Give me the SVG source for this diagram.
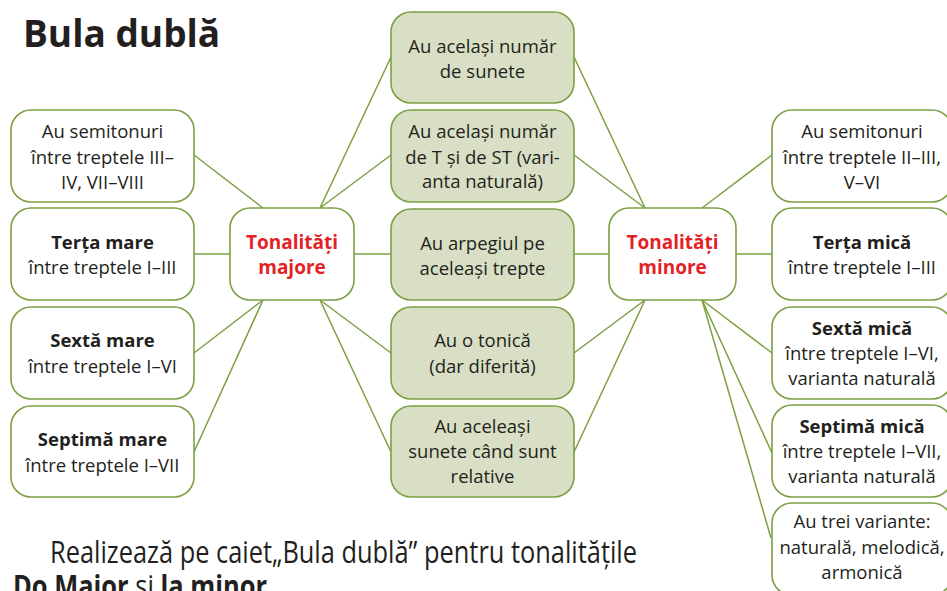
<svg xmlns="http://www.w3.org/2000/svg" width="947" height="591" viewBox="0 0 947 591">
<style>
  .bx { fill: #ffffff; stroke: #7ba043; stroke-width: 1.6; }
  .cb { fill: #d9dfc4; stroke: #7ba043; stroke-width: 1.6; }
  .ln { stroke: #7ba043; stroke-width: 1.5; fill: none; }
  text { font-family: "Open Sans", "Liberation Sans", sans-serif; fill: #231f20; }
  .t { font-size: 18.5px; text-anchor: middle; }
  .b { font-weight: bold; }
  .red { font-size: 19px; font-weight: bold; fill: #e41f26; text-anchor: middle; }
  .title { font-size: 37px; font-weight: bold; }
  .foot { font-family: "Liberation Sans Narrow", "Open Sans", "Liberation Sans", sans-serif; font-size: 31px; }
</style>
<rect width="947" height="591" fill="#ffffff"/>
<text class="title" x="23" y="47">Bula dublă</text>

<g id="connectors">
  <line class="ln" x1="194" y1="155" x2="263" y2="208"/>
  <line class="ln" x1="194" y1="254" x2="230" y2="254"/>
  <line class="ln" x1="194" y1="353" x2="263" y2="300"/>
  <line class="ln" x1="194" y1="452" x2="263" y2="300"/>
  <line class="ln" x1="320" y1="208" x2="391" y2="57"/>
  <line class="ln" x1="320" y1="208" x2="391" y2="155"/>
  <line class="ln" x1="354" y1="254" x2="391" y2="254"/>
  <line class="ln" x1="320" y1="300" x2="391" y2="353"/>
  <line class="ln" x1="320" y1="300" x2="391" y2="452"/>
  <line class="ln" x1="574" y1="57" x2="645" y2="208"/>
  <line class="ln" x1="574" y1="155" x2="645" y2="208"/>
  <line class="ln" x1="574" y1="254" x2="609" y2="254"/>
  <line class="ln" x1="574" y1="353" x2="645" y2="300"/>
  <line class="ln" x1="574" y1="452" x2="645" y2="300"/>
  <line class="ln" x1="702" y1="208" x2="772" y2="155"/>
  <line class="ln" x1="736" y1="254" x2="772" y2="254"/>
  <line class="ln" x1="702" y1="300" x2="772" y2="353"/>
  <line class="ln" x1="702" y1="300" x2="772" y2="453"/>
  <line class="ln" x1="702" y1="300" x2="771" y2="538"/>
</g>

<g id="L1"><rect class="bx" x="11" y="110" width="183" height="92" rx="20"/>
  <text class="t" x="102.5" y="138">Au semitonuri</text>
  <text class="t" x="102.5" y="164">între treptele III–</text>
  <text class="t" x="102.5" y="189">IV, VII–VIII</text></g>
<g id="L2"><rect class="bx" x="11" y="208" width="183" height="92" rx="20"/>
  <text class="t b" x="102.5" y="249">Terța mare</text>
  <text class="t" x="102.5" y="274">între treptele I–III</text></g>
<g id="L3"><rect class="bx" x="11" y="307" width="183" height="92" rx="20"/>
  <text class="t b" x="102.5" y="347">Sextă mare</text>
  <text class="t" x="102.5" y="373">între treptele I–VI</text></g>
<g id="L4"><rect class="bx" x="11" y="406" width="183" height="91" rx="20"/>
  <text class="t b" x="102.5" y="446">Septimă mare</text>
  <text class="t" x="102.5" y="472">între treptele I–VII</text></g>

<g id="majore"><rect class="bx" x="230" y="208" width="124" height="92" rx="20"/>
  <text class="red" x="292" y="249">Tonalități</text>
  <text class="red" x="292" y="274">majore</text></g>

<g id="C1"><rect class="cb" x="391" y="12" width="183" height="91" rx="20"/>
  <text class="t" x="482.5" y="53">Au același număr</text>
  <text class="t" x="482.5" y="78">de sunete</text></g>
<g id="C2"><rect class="cb" x="391" y="110" width="183" height="92" rx="20"/>
  <text class="t" x="482.5" y="138">Au același număr</text>
  <text class="t" x="482.5" y="164">de T și de ST (vari-</text>
  <text class="t" x="482.5" y="188">anta naturală)</text></g>
<g id="C3"><rect class="cb" x="391" y="209" width="183" height="91" rx="20"/>
  <text class="t" x="482.5" y="250">Au arpegiul pe</text>
  <text class="t" x="482.5" y="275">aceleași trepte</text></g>
<g id="C4"><rect class="cb" x="391" y="307" width="183" height="92" rx="20"/>
  <text class="t" x="482.5" y="347">Au o tonică</text>
  <text class="t" x="482.5" y="373">(dar diferită)</text></g>
<g id="C5"><rect class="cb" x="391" y="406" width="183" height="91" rx="20"/>
  <text class="t" x="482.5" y="433">Au aceleași</text>
  <text class="t" x="482.5" y="458">sunete când sunt</text>
  <text class="t" x="482.5" y="483">relative</text></g>

<g id="minore"><rect class="bx" x="609" y="208" width="127" height="92" rx="20"/>
  <text class="red" x="672.5" y="249">Tonalități</text>
  <text class="red" x="672.5" y="274">minore</text></g>

<g id="R1"><rect class="bx" x="772" y="110" width="180" height="92" rx="20"/>
  <text class="t" x="862" y="138">Au semitonuri</text>
  <text class="t" x="862" y="164">între treptele II–III,</text>
  <text class="t" x="862" y="189">V–VI</text></g>
<g id="R2"><rect class="bx" x="772" y="208" width="180" height="92" rx="20"/>
  <text class="t b" x="862" y="249">Terța mică</text>
  <text class="t" x="862" y="274">între treptele I–III</text></g>
<g id="R3"><rect class="bx" x="772" y="307" width="180" height="92" rx="20"/>
  <text class="t b" x="862" y="335">Sextă mică</text>
  <text class="t" x="862" y="360">între treptele I–VI,</text>
  <text class="t" x="862" y="385">varianta naturală</text></g>
<g id="R4"><rect class="bx" x="772" y="405" width="180" height="92" rx="20"/>
  <text class="t b" x="862" y="433">Septimă mică</text>
  <text class="t" x="862" y="458">între treptele I–VII,</text>
  <text class="t" x="862" y="483">varianta naturală</text></g>
<g id="R5"><rect class="bx" x="772" y="503" width="180" height="92" rx="20"/>
  <text class="t" x="862" y="528">Au trei variante:</text>
  <text class="t" x="862" y="554">naturală, melodică,</text>
  <text class="t" x="862" y="579">armonică</text></g>

<text class="foot" x="50" y="563" textLength="587" lengthAdjust="spacingAndGlyphs">Realizează pe caiet„Bula dublă” pentru tonalitățile</text>
<text class="foot" x="13" y="597" textLength="254" lengthAdjust="spacingAndGlyphs"><tspan font-weight="bold">Do Major</tspan> și <tspan font-weight="bold">la minor</tspan></text>
</svg>
